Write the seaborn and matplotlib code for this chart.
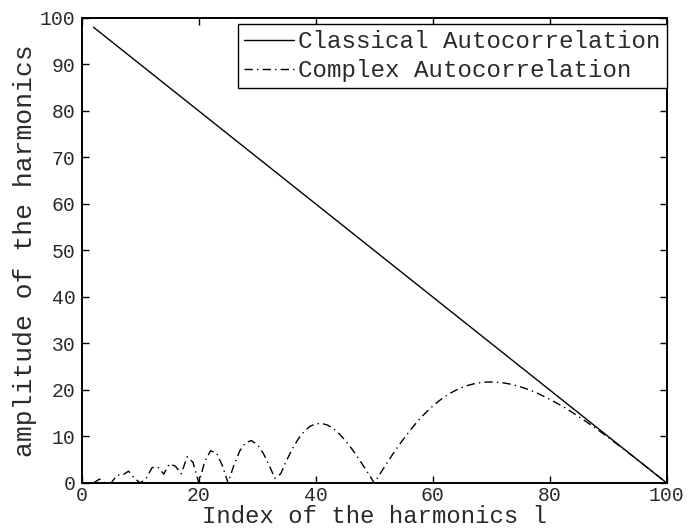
import numpy as np
import pandas as pd
import matplotlib
matplotlib.use("Agg")
import matplotlib.pyplot as plt
import seaborn as sns

# harmonic index l
harmonic_index = list(range(2, 101))

# classical autocorrelation amplitude (straight fall from 98 to 0)
classical_amp = [98 - i for i in range(0, 99)]

# complex autocorrelation amplitude for l = 2..100
complex_amp = [
    0.0, 0.83, 0.0, 0.0, 1.65, 1.74, 2.55, 0.98, 0.0,            # 2-10
    0.99, 3.31, 3.41, 1.93, 4.13, 3.60, 1.96, 5.64, 4.45, 0.0,    # 11-20
    4.55, 6.93, 6.50, 3.82, 0.0, 3.85, 6.89, 8.69, 9.11, 8.27,    # 21-30
    6.42, 3.90, 1.00, 1.99, 4.83, 7.37, 9.47, 11.08, 12.17, 12.73,  # 31-40
    12.81, 12.45, 11.69, 10.59, 9.21, 7.61, 5.85, 3.95, 2.00, 0.0,  # 41-50
    2.00, 3.96, 5.88, 7.72, 9.46, 11.11, 12.65, 14.09, 15.37, 16.54,  # 51-60
    17.59, 18.51, 19.31, 19.98, 20.54, 20.98, 21.32, 21.55, 21.68, 21.72,  # 61-70
    21.67, 21.54, 21.33, 21.03, 20.67, 20.25, 19.78, 19.24, 18.63, 18.01,  # 71-80
    17.32, 16.60, 15.86, 15.06, 14.24, 13.39, 12.53, 11.63, 10.73, 9.80,  # 81-90
    8.85, 7.90, 6.94, 5.96, 4.97, 3.99, 3.00, 2.00, 1.00, 0.0,     # 91-100
]

x_ticks = [0, 20, 40, 60, 80, 100]
y_ticks = [0, 10, 20, 30, 40, 50, 60, 70, 80, 90, 100]

df = pd.DataFrame({"l": harmonic_index,
                   "classical": classical_amp,
                   "complex": complex_amp})

sns.set_style("ticks")
plt.rcParams["font.family"] = ["Liberation Mono", "DejaVu Sans Mono"]
txt_col = "#2a2a2a"

fig = plt.figure(figsize=(6.88, 5.29), dpi=100)
ax = fig.add_axes([0.119, 0.087, 0.850, 0.879])

sns.lineplot(data=df, x="l", y="classical", ax=ax, color="black",
             linewidth=1.0, label="Classical Autocorrelation")
sns.lineplot(data=df, x="l", y="complex", ax=ax, color="black",
             linewidth=1.0, linestyle=(0, (6, 3, 1, 3)),
             label="Complex Autocorrelation")

ax.set_xlim(0, 100)
ax.set_ylim(0, 100)
ax.set_xticks(x_ticks)
ax.set_yticks(y_ticks)
ax.tick_params(direction="in", length=5, width=1, labelsize=14.2,
               top=True, right=True, pad=4.5, color="black",
               labelcolor=txt_col)
ax.tick_params(axis="x", pad=2.5)
for s in ax.spines.values():
    s.set_linewidth(1.4)
    s.set_color("black")
    s.set_visible(True)

ax.set_xlabel("Index of the harmonics l", fontsize=17.2, labelpad=0,
              color=txt_col)
ax.set_ylabel("amplitude of the harmonics", fontsize=19, labelpad=2,
              color=txt_col)

leg = ax.legend(loc="upper left", bbox_to_anchor=(238 / 688, 1 - 24 / 529),
                bbox_transform=fig.transFigure, fontsize=17.4,
                frameon=True, fancybox=False, framealpha=1,
                edgecolor="black", borderpad=0.25, borderaxespad=0,
                handlelength=2.07, handletextpad=0.17, labelspacing=0.25)
leg.get_frame().set_linewidth(1.0)
for t in leg.get_texts():
    t.set_color(txt_col)

fig.savefig("out.png", dpi=100)
